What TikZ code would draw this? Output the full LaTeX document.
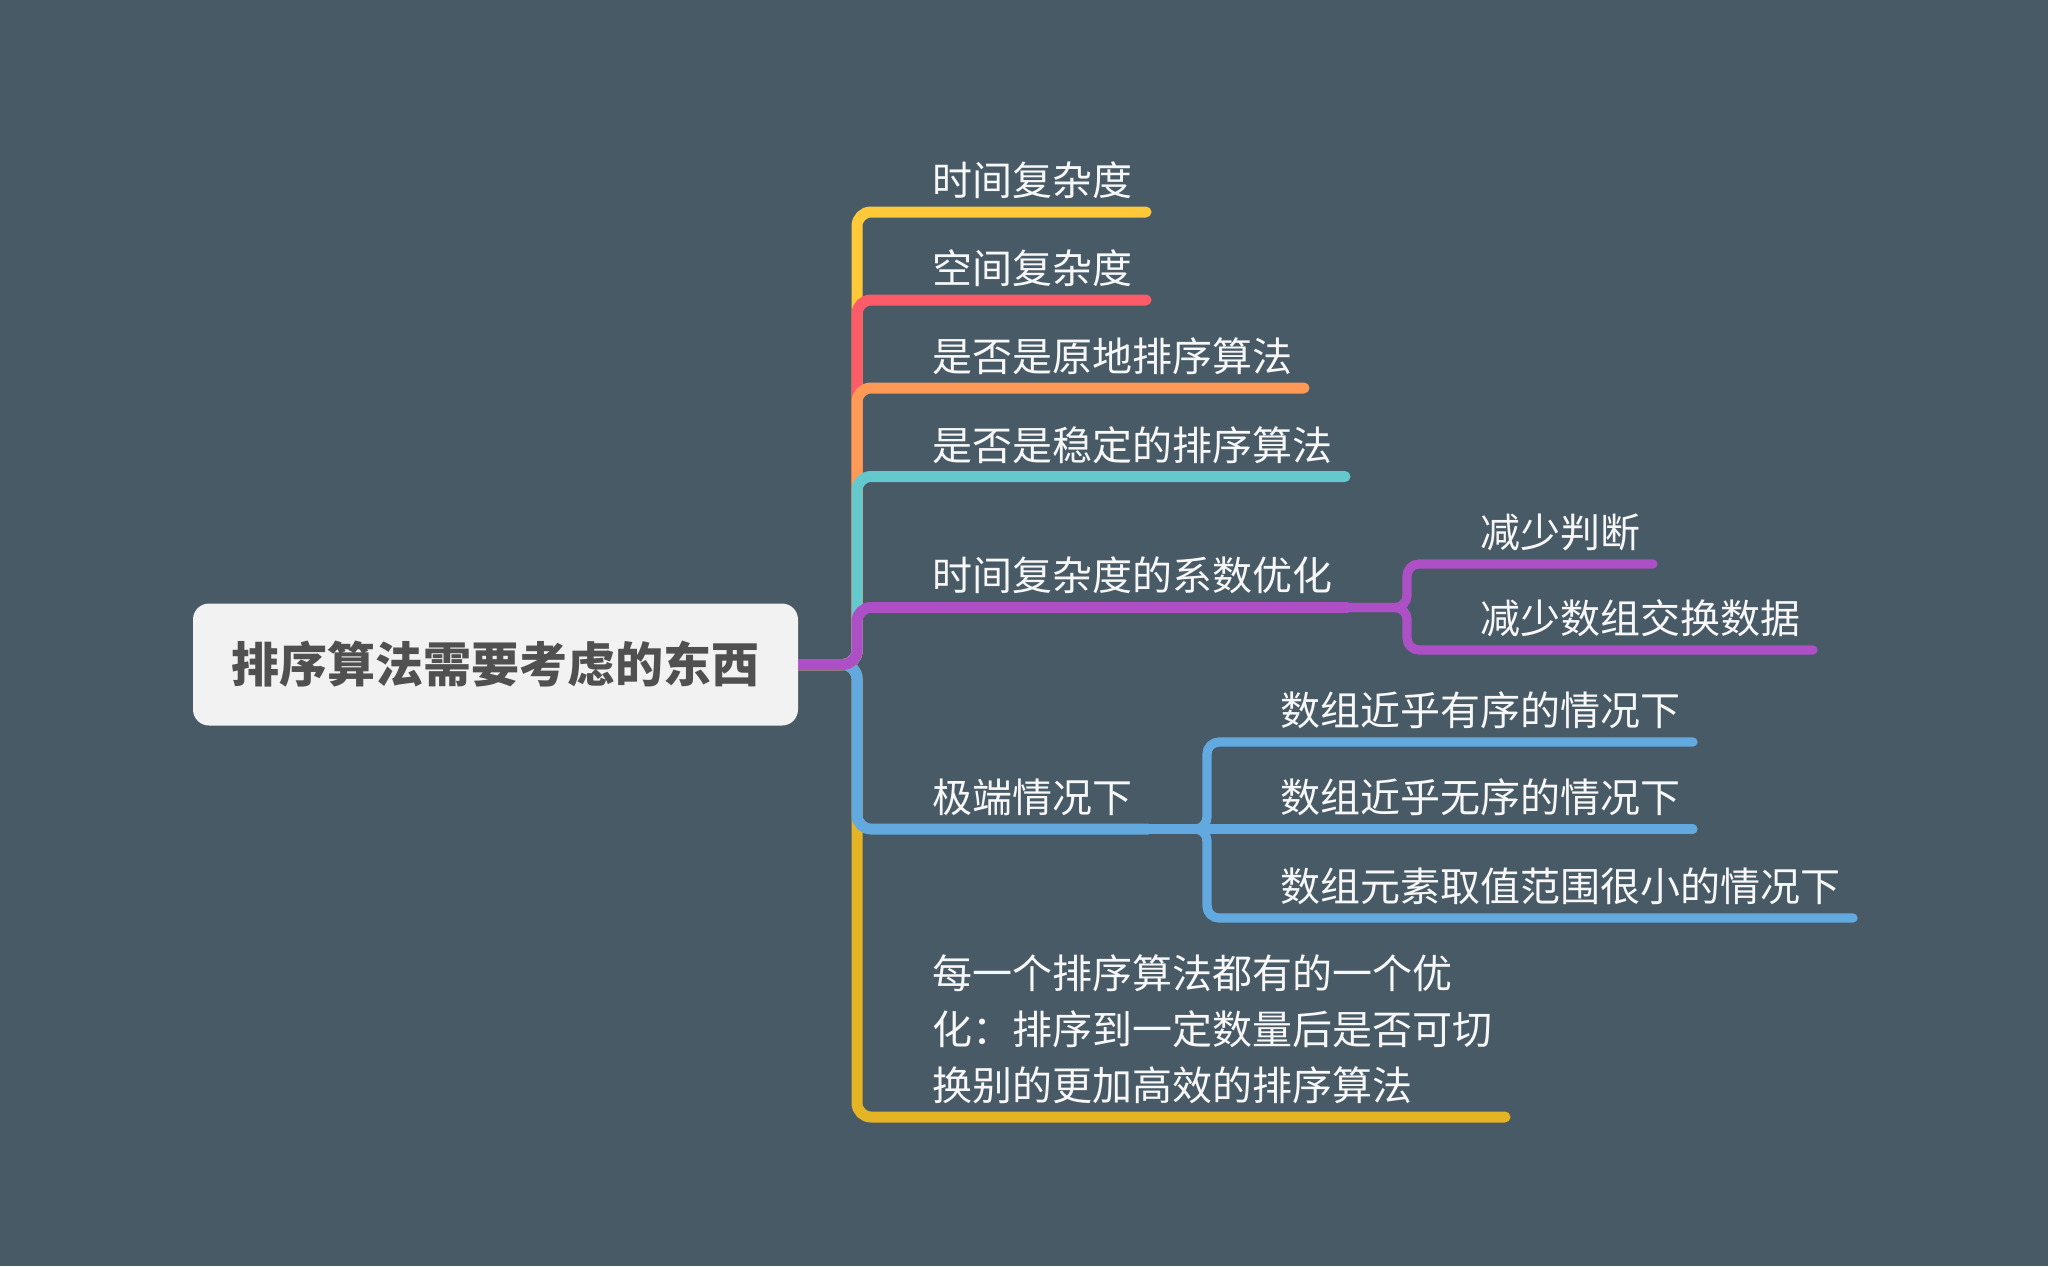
\documentclass[tikz,border=0pt]{standalone}
\usepackage{fontspec}
\newfontfamily\cjk{Noto Sans CJK SC}
\pgfdeclarelayer{bg}
\pgfdeclarelayer{lines}
\pgfsetlayers{bg,lines,main}

\definecolor{bgc}{HTML}{475A66}
\definecolor{rootfill}{HTML}{F2F2F2}
\definecolor{roottext}{HTML}{505050}
\definecolor{topictext}{HTML}{F7F7F7}
\definecolor{cyellow}{HTML}{FFC93A}
\definecolor{cred}{HTML}{FC5C69}
\definecolor{corange}{HTML}{FF9955}
\definecolor{ccyan}{HTML}{63C9CD}
\definecolor{cpurple}{HTML}{AD4FC5}
\definecolor{cblue}{HTML}{62A9E0}
\definecolor{cgold}{HTML}{E5B425}

\tikzset{
  mainline/.style={line width=5.5pt, line cap=round, rounded corners=7pt},
  subline/.style={line width=4.6pt, line cap=round, rounded corners=6pt},
  topic/.style={font=\cjk\fontsize{20pt}{28pt}\selectfont, text=topictext,
                inner sep=0pt, anchor=base west},
  rootbox/.style={fill=rootfill, rounded corners=8pt, inner sep=0pt,
                  minimum width=302.5pt, minimum height=61pt, text=roottext,
                  font=\cjk\bfseries\fontsize{24pt}{28pt}\selectfont}
}

\begin{document}
\begin{tikzpicture}[x=0.5pt, y=-0.5pt]
  % canvas
  \begin{pgfonlayer}{bg}
    \fill[bgc] (0,0) rectangle (2048,1266);
  \end{pgfonlayer}
  \useasboundingbox (0,0) rectangle (2048,1266);

  % central topic
  \node[rootbox] (root) at (495.5,664.5) {排序算法需要考虑的东西};

  % main topics
  \node[topic] (a1) at (932,195) {时间复杂度};
  \node[topic] (a2) at (932,283) {空间复杂度};
  \node[topic] (a3) at (932,371) {是否是原地排序算法};
  \node[topic] (a4) at (932,460) {是否是稳定的排序算法};
  \node[topic] (a5) at (932,590.5) {时间复杂度的系数优化};
  \node[topic] (a6) at (932,812) {极端情况下};
  \node[topic, align=left, anchor=west] (a7) at (932,1029.5)
    {每一个排序算法都有的一个优\\化：排序到一定数量后是否可切\\换别的更加高效的排序算法};

  % subtopics
  \node[topic] (b1) at (1480,547) {减少判断};
  \node[topic] (b2) at (1480,633) {减少数组交换数据};
  \node[topic] (c1) at (1280,725) {数组近乎有序的情况下};
  \node[topic] (c2) at (1280,812.5) {数组近乎无序的情况下};
  \node[topic] (c3) at (1280,901) {数组元素取值范围很小的情况下};

  % trunk corners and underline ends
  \coordinate (t1) at (857,212);    \coordinate (u1) at (1146,212);
  \coordinate (t2) at (857,300);    \coordinate (u2) at (1146,300);
  \coordinate (t3) at (857,388);    \coordinate (u3) at (1304,388);
  \coordinate (t4) at (857,476.5);  \coordinate (u4) at (1345,476.5);
  \coordinate (t5) at (857,607.5);  \coordinate (u5) at (1347,607.5);
  \coordinate (t6) at (857,829);    \coordinate (u6) at (1148,829);
  \coordinate (t7) at (857,1117);   \coordinate (u7) at (1505,1117);

  \coordinate (k1) at (1407,564);   \coordinate (v1) at (1653,564);
  \coordinate (k2) at (1407,650);   \coordinate (v2) at (1813,650);
  \coordinate (m1) at (1207,742);   \coordinate (w1) at (1693,742);
  \coordinate (w2) at (1693,829);
  \coordinate (m3) at (1207,918);   \coordinate (w3) at (1853,918);

  \begin{pgfonlayer}{lines}
    % lower branches first, upper branches stacked on top
    \draw[mainline, cgold]   (root.east) -| (t7) -- (u7);
    \draw[mainline, cblue]   (root.east) -| (t6) -- (u6);
    \draw[mainline, cyellow] (root.east) -| (t1) -- (u1);
    \draw[mainline, cred]    (root.east) -| (t2) -- (u2);
    \draw[mainline, corange] (root.east) -| (t3) -- (u3);
    \draw[mainline, ccyan]   (root.east) -| (t4) -- (u4);
    \draw[mainline, cpurple] (root.east) -| (t5) -- (u5);

    % second level
    \draw[subline, cpurple] (u5) -| (k1) -- (v1);
    \draw[subline, cpurple] (u5) -| (k2) -- (v2);
    \draw[subline, cblue]   (u6) -| (m1) -- (w1);
    \draw[subline, cblue]   (u6) -- (w2);
    \draw[subline, cblue]   (u6) -| (m3) -- (w3);
  \end{pgfonlayer}
\end{tikzpicture}
\end{document}
